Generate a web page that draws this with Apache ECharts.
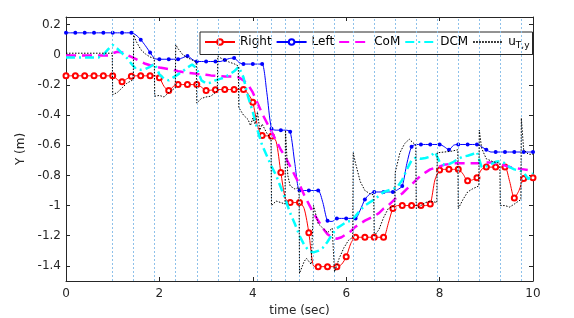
<!DOCTYPE html>
<html><head><meta charset="utf-8">
<script src="https://cdn.jsdelivr.net/npm/echarts@6/dist/echarts.min.js"></script>
<style>html,body{margin:0;padding:0;background:#fff}#c{width:574px;height:318px}</style>
</head><body><div id="c"></div>
<script>
const time = [0,0.1,0.2,0.3,0.4,0.5,0.6,0.7,0.8,0.9,1.0,1.1,1.2,1.3,1.4,1.5,1.6,1.7,1.8,1.9,
2.0,2.1,2.2,2.3,2.4,2.5,2.6,2.7,2.8,2.9,3.0,3.1,3.2,3.3,3.4,3.5,3.6,3.7,3.8,3.9,
4.0,4.1,4.2,4.3,4.4,4.5,4.6,4.7,4.8,4.9,5.0,5.1,5.2,5.3,5.4,5.5,5.6,5.7,5.8,5.9,
6.0,6.1,6.2,6.3,6.4,6.5,6.6,6.7,6.8,6.9,7.0,7.1,7.2,7.3,7.4,7.5,7.6,7.7,7.8,7.9,
8.0,8.1,8.2,8.3,8.4,8.5,8.6,8.7,8.8,8.9,9.0,9.1,9.2,9.3,9.4,9.5,9.6,9.7,9.8,9.9,10.0];

const rightY = [-0.14,-0.14,-0.14,-0.14,-0.14,-0.14,-0.14,-0.14,-0.14,-0.14,-0.14,
-0.165,-0.18,-0.16,-0.143,
-0.14,-0.14,-0.14,-0.14,-0.14,
-0.153,-0.21,-0.238,-0.21,-0.198,
-0.198,-0.198,-0.198,-0.198,
-0.215,-0.238,-0.235,-0.232,
-0.231,-0.231,-0.231,-0.231,-0.231,-0.231,
-0.26,-0.315,-0.47,-0.535,
-0.538,-0.54,-0.575,-0.78,-0.955,-0.98,-0.98,-0.98,-1.02,-1.18,-1.40,
-1.405,-1.405,-1.405,-1.405,-1.405,
-1.39,-1.34,-1.25,-1.21,
-1.21,-1.21,-1.21,-1.21,-1.21,-1.21,
-1.12,-1.02,-1.0,
-1.0,-1.0,-1.0,-1.0,-1.0,-1.0,
-0.99,-0.83,-0.765,
-0.76,-0.76,-0.76,-0.76,
-0.79,-0.835,-0.83,-0.815,-0.76,-0.745,
-0.745,-0.745,-0.745,-0.745,
-0.84,-0.95,-0.9,-0.82,-0.815,-0.815];

const leftY = [0.145,0.145,0.145,0.145,0.145,0.145,0.145,0.145,0.145,0.145,0.145,0.145,0.145,0.145,0.145,
0.13,0.10,0.06,0.015,-0.025,
-0.03,-0.03,-0.03,-0.03,-0.03,
-0.02,-0.008,-0.03,
-0.045,-0.045,-0.045,-0.045,-0.045,-0.045,
-0.035,-0.025,-0.022,-0.05,
-0.062,-0.062,-0.062,-0.062,-0.062,
-0.25,-0.49,
-0.50,-0.50,-0.50,
-0.51,-0.72,
-0.90,-0.90,-0.90,-0.90,-0.90,
-0.98,-1.10,-1.105,
-1.085,-1.085,-1.085,-1.085,-1.085,
-1.03,-0.96,-0.925,
-0.91,-0.91,-0.91,-0.91,-0.91,
-0.895,-0.87,-0.72,-0.61,
-0.595,-0.595,-0.595,-0.595,-0.595,-0.595,
-0.61,-0.63,-0.60,
-0.595,-0.595,-0.595,-0.595,-0.595,
-0.61,-0.63,
-0.645,-0.645,-0.645,-0.645,-0.645,-0.645,-0.645,-0.645,-0.645,-0.645];

const comY = [-0.005,-0.005,-0.005,-0.005,-0.005,-0.005,-0.005,-0.005,-0.005,-0.005,
0.01,0.02,0.015,0.0,-0.015,-0.03,-0.045,-0.06,-0.07,-0.078,
-0.085,-0.09,-0.095,-0.10,-0.11,-0.115,-0.12,-0.123,-0.127,-0.13,
-0.133,-0.137,-0.14,-0.142,-0.145,-0.145,-0.145,-0.15,-0.17,-0.2,
-0.25,-0.32,-0.39,-0.45,-0.51,-0.57,-0.63,-0.68,-0.74,-0.80,
-0.86,-0.93,-0.99,-1.05,-1.10,-1.15,-1.19,-1.21,-1.22,-1.21,
-1.19,-1.17,-1.14,-1.12,-1.10,-1.085,-1.07,-1.05,-1.02,-1.0,
-0.97,-0.94,-0.92,-0.89,-0.86,-0.83,-0.80,-0.78,-0.76,-0.75,
-0.74,-0.73,-0.725,-0.72,-0.72,-0.72,-0.72,-0.72,-0.72,-0.72,
-0.715,-0.715,-0.72,-0.725,-0.735,-0.745,-0.75,-0.755,-0.76,-0.765,
-0.77];

const dcmY = [-0.018,-0.018,-0.018,-0.018,-0.018,-0.018,-0.018,-0.018,
0.0,0.035,
0.065,0.04,0.01,-0.02,-0.06,-0.095,-0.10,-0.095,-0.08,-0.06,
-0.13,-0.16,-0.17,-0.15,-0.13,-0.11,-0.085,-0.065,-0.09,-0.17,
-0.19,-0.185,-0.17,-0.16,-0.15,-0.13,-0.11,-0.08,-0.15,-0.28,
-0.38,-0.5,-0.6,-0.67,-0.74,-0.80,-0.88,-0.96,-1.05,-1.12,
-1.2,-1.26,-1.3,-1.31,-1.30,-1.28,-1.24,-1.19,-1.15,-1.13,
-1.11,-1.10,-1.07,-1.03,-1.0,-0.98,-0.96,-0.935,-0.91,-0.90,
-0.89,-0.875,-0.83,-0.76,-0.70,-0.68,-0.69,-0.685,-0.675,-0.645,
-0.71,-0.73,-0.725,-0.71,-0.69,-0.675,-0.67,-0.66,-0.645,-0.745,
-0.74,-0.725,-0.71,-0.705,-0.72,-0.745,-0.76,-0.765,-0.78,-0.825,
-0.785];

const uTime = [0,0.99,1.0,1.1,1.2,1.3,1.44,1.45,1.5,1.6,1.7,1.8,1.89,1.9,2.0,2.1,2.2,2.34,2.35,2.4,
2.5,2.6,2.7,2.79,2.8,2.9,3.0,3.1,3.24,3.25,3.3,3.4,3.5,3.6,3.69,3.7,3.8,3.9,3.95,4.0,
4.05,4.1,4.15,4.2,4.3,4.39,4.4,4.5,4.6,4.69,4.7,4.75,4.8,4.9,4.99,5.0,5.1,5.15,5.25,5.29,
5.3,5.4,5.5,5.6,5.7,5.74,5.75,5.85,5.95,6.05,6.14,6.15,6.2,6.3,6.4,6.5,6.59,6.6,6.7,6.8,
6.9,7.04,7.05,7.15,7.25,7.35,7.49,7.5,7.6,7.7,7.8,7.94,7.95,8.1,8.25,8.39,8.4,8.5,8.6,8.7,
8.84,8.85,8.9,9.0,9.15,9.29,9.3,9.4,9.5,9.6,9.74,9.75,9.8,9.9,10.0];
const uY = [0.01,0.01,-0.265,-0.25,-0.22,-0.19,-0.165,0.13,0.09,0.035,0.005,-0.015,-0.025,-0.275,-0.27,-0.28,-0.25,-0.22,0.066,0.04,
0.0,-0.02,-0.035,-0.05,-0.32,-0.29,-0.28,-0.275,-0.24,-0.01,-0.02,-0.035,-0.05,-0.06,-0.075,-0.35,-0.40,-0.43,-0.47,-0.42,
-0.46,-0.38,-0.50,-0.46,-0.52,-0.56,-1.0,-0.97,-0.98,-0.99,-0.5,-0.8,-0.87,-0.89,-0.88,-1.45,-1.37,-1.35,-1.39,-1.40,
-1.0,-1.12,-1.15,-1.18,-1.15,-1.16,-1.44,-1.35,-1.28,-1.23,-1.21,-0.65,-0.72,-0.84,-0.9,-0.92,-0.93,-1.2,-1.16,-1.08,
-1.02,-1.0,-0.78,-0.65,-0.59,-0.56,-0.6,-1.02,-1.0,-0.98,-0.97,-0.98,-0.65,-0.645,-0.64,-0.63,-1.02,-0.96,-0.91,-0.89,
-0.87,-0.5,-0.62,-0.69,-0.71,-0.72,-1.0,-1.0,-1.01,-0.99,-0.96,-0.42,-0.63,-0.66,-0.66];

const stepTimes = [1.0,1.45,1.9,2.35,2.8,3.25,3.7,4.1,4.4,4.7,5.0,5.3,5.75,6.15,6.6,7.05,7.5,7.95,8.4,8.85,9.3,9.75];
const xTicks = [0,2,4,6,8,10];
const yTicks = [-1.4,-1.2,-1,-0.8,-0.6,-0.4,-0.2,0,0.2];
const seriesNames = ['Right','Left','CoM','DCM','uTy'];

const FONT = 'DejaVu Sans';
const AX = '#262626';
const NOFILL = 'rgba(0,0,0,0)';
const chart = echarts.init(document.getElementById('c'), null, {renderer:'canvas'});

function markedData(ys, sym) {
  return time.map((t, i) => ({value: [t, ys[i]], symbol: i % 2 === 0 ? sym : 'none'}));
}
const fmt = v => String(Math.round(v * 10) / 10);

const axisCommon = {
  axisLine: {show: true, onZero: false, lineStyle: {color: AX, width: 1}},
  axisTick: {show: true, inside: true, length: 4, lineStyle: {color: AX}},
  splitLine: {show: false}
};

chart.setOption({
  animation: false,
  backgroundColor: '#fff',
  grid: {left: 66, right: 41, top: 17, bottom: 37, containLabel: false, outerBoundsMode: 'none'},
  legend: {
    left: 200, top: 32,
    data: seriesNames,
    backgroundColor: '#fff', borderColor: AX, borderWidth: 1,
    padding: [4, 3, 4, 4], itemGap: 4, itemWidth: 30, itemHeight: 7,
    textStyle: {fontFamily: FONT, fontSize: 12, color: '#000',
      rich: {n: {fontFamily: FONT, fontSize: 12, color: '#000'},
             s: {fontFamily: FONT, fontSize: 9, color: '#000', padding: [8, 0, 0, 0]}}},
    formatter: name => name === 'uTy' ? '{n|u}{s|T,y}' : name
  },
  xAxis: [
    Object.assign({type: 'value', min: 0, max: 10, interval: 2, position: 'bottom',
      name: 'time (sec)', nameLocation: 'middle', nameGap: 24,
      nameTextStyle: {fontFamily: FONT, fontSize: 12, color: AX},
      axisLabel: {fontFamily: FONT, fontSize: 12, color: AX, margin: 7, formatter: fmt}}, axisCommon),
    Object.assign({type: 'value', min: 0, max: 10, interval: 2, position: 'top',
      axisLabel: {show: false}}, axisCommon)
  ],
  yAxis: [
    Object.assign({type: 'value', min: -1.5, max: 0.25, position: 'left',
      name: 'Y (m)', nameLocation: 'middle', nameGap: 32,
      nameTextStyle: {fontFamily: FONT, fontSize: 12, color: AX},
      axisLabel: {fontFamily: FONT, fontSize: 12, color: AX, margin: 5, formatter: fmt, customValues: yTicks}},
      axisCommon, {axisTick: {show: true, inside: true, length: 4, lineStyle: {color: AX}, customValues: yTicks}}),
    Object.assign({type: 'value', min: -1.5, max: 0.25, position: 'right',
      axisLabel: {show: false}}, axisCommon,
      {axisTick: {show: true, inside: true, length: 4, lineStyle: {color: AX}, customValues: yTicks}})
  ],
  series: [
    {name: 'steps', type: 'line', data: [], silent: true, z: 1,
      markLine: {silent: true, symbol: 'none', animation: false, label: {show: false},
        lineStyle: {color: '#8ec1ea', width: 1, type: [2, 2]},
        data: stepTimes.map(t => ({xAxis: t}))}},
    {name: 'Right', type: 'line', z: 3, data: markedData(rightY, 'emptyCircle'),
      showAllSymbol: true, symbolSize: 5, smooth: 0.25,
      lineStyle: {color: '#ff0000', width: 1}, itemStyle: {color: '#ff0000', borderWidth: 1}},
    {name: 'Left', type: 'line', z: 3, data: markedData(leftY, 'circle'),
      showAllSymbol: true, symbolSize: 4, smooth: 0.25,
      lineStyle: {color: '#0000ff', width: 1}, itemStyle: {color: '#0000ff'}},
    {name: 'CoM', type: 'line', z: 4, showSymbol: false, symbol: 'none',
      data: time.map((t, i) => [t, comY[i]]),
      lineStyle: {color: '#ff00ff', width: 2.5, type: [10, 6]}, itemStyle: {color: NOFILL}},
    {name: 'DCM', type: 'line', z: 5, showSymbol: false, symbol: 'none',
      data: time.map((t, i) => [t, dcmY[i]]),
      lineStyle: {color: '#00ffff', width: 2.5, type: [9, 4, 2, 4]}, itemStyle: {color: NOFILL}},
    {name: 'uTy', type: 'line', z: 6, showSymbol: false, symbol: 'none',
      data: uTime.map((t, i) => [t, uY[i]]),
      lineStyle: {color: '#000', width: 1, type: [1.5, 1.5]}, itemStyle: {color: NOFILL}}
  ]
});
</script></body></html>
